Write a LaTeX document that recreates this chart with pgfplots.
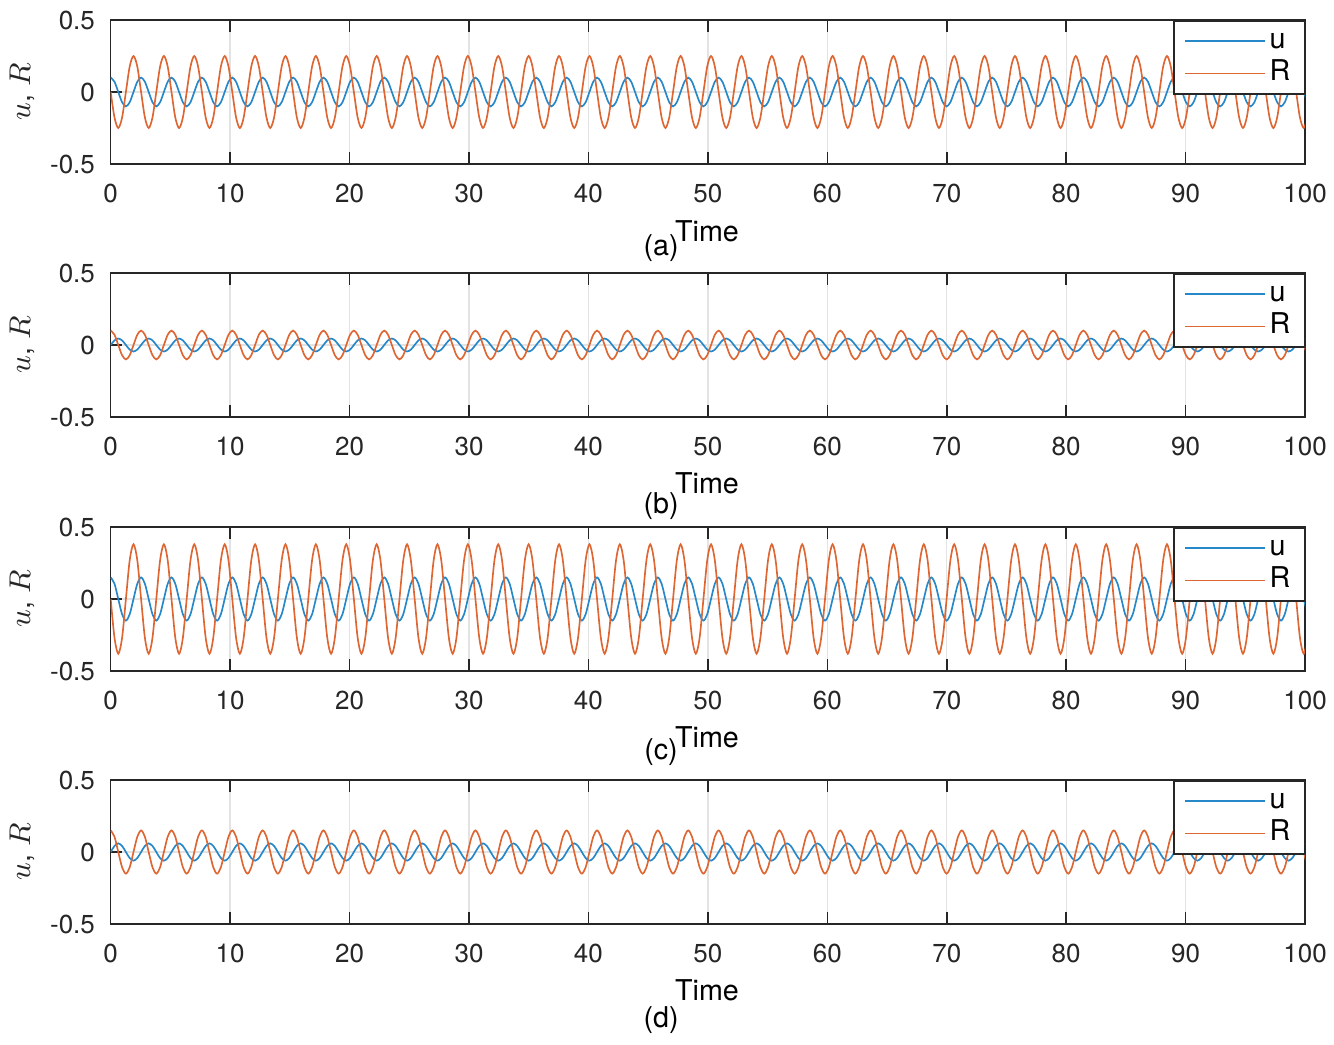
\documentclass[border=0pt]{standalone}
\usepackage{fontspec}
\setmainfont{TeX Gyre Heros}
\usepackage{pgfplots}
\pgfplotsset{compat=1.18}
\usepackage{pgfplotstable}

\definecolor{mblue}{rgb}{0.15,0.53,0.79}
\definecolor{morange}{rgb}{0.87,0.40,0.20}
\definecolor{axgray}{gray}{0.15}
\newcommand\tfont{\fontsize{7.8}{9}\selectfont}
\newcommand\lfont{\fontsize{8.6}{10}\selectfont}

% samples, 8 per period (period ~2.545)
% panel (b) R uses column ua, panel (d) R uses column uc
\pgfplotstableread{
t ua Ra ub uc Rc ud
0 0.1 0 0 0.15 0 0
0.318 0.071 -0.177 0.032 0.106 -0.269 0.042
0.636 0 -0.25 0.045 0 -0.38 0.06
0.954 -0.071 -0.177 0.032 -0.106 -0.269 0.042
1.273 -0.1 0 0 -0.15 0 0
1.591 -0.071 0.177 -0.032 -0.106 0.269 -0.042
1.909 0 0.25 -0.045 0 0.38 -0.06
2.227 0.071 0.177 -0.032 0.106 0.269 -0.042
2.545 0.1 0 0 0.15 0 0
2.863 0.071 -0.177 0.032 0.106 -0.269 0.042
3.181 0 -0.25 0.045 0 -0.38 0.06
3.499 -0.071 -0.177 0.032 -0.106 -0.269 0.042
3.818 -0.1 0 0 -0.15 0 0
4.136 -0.071 0.177 -0.032 -0.106 0.269 -0.042
4.454 0 0.25 -0.045 0 0.38 -0.06
4.772 0.071 0.177 -0.032 0.106 0.269 -0.042
5.090 0.1 0 0 0.15 0 0
5.408 0.071 -0.177 0.032 0.106 -0.269 0.042
5.726 0 -0.25 0.045 0 -0.38 0.06
6.044 -0.071 -0.177 0.032 -0.106 -0.269 0.042
6.363 -0.1 0 0 -0.15 0 0
6.681 -0.071 0.177 -0.032 -0.106 0.269 -0.042
6.999 0 0.25 -0.045 0 0.38 -0.06
7.317 0.071 0.177 -0.032 0.106 0.269 -0.042
7.635 0.1 0 0 0.15 0 0
7.953 0.071 -0.177 0.032 0.106 -0.269 0.042
8.271 0 -0.25 0.045 0 -0.38 0.06
8.589 -0.071 -0.177 0.032 -0.106 -0.269 0.042
8.908 -0.1 0 0 -0.15 0 0
9.226 -0.071 0.177 -0.032 -0.106 0.269 -0.042
9.544 0 0.25 -0.045 0 0.38 -0.06
9.862 0.071 0.177 -0.032 0.106 0.269 -0.042
10.180 0.1 0 0 0.15 0 0
10.498 0.071 -0.177 0.032 0.106 -0.269 0.042
10.816 0 -0.25 0.045 0 -0.38 0.06
11.134 -0.071 -0.177 0.032 -0.106 -0.269 0.042
11.453 -0.1 0 0 -0.15 0 0
11.771 -0.071 0.177 -0.032 -0.106 0.269 -0.042
12.089 0 0.25 -0.045 0 0.38 -0.06
12.407 0.071 0.177 -0.032 0.106 0.269 -0.042
12.725 0.1 0 0 0.15 0 0
13.043 0.071 -0.177 0.032 0.106 -0.269 0.042
13.361 0 -0.25 0.045 0 -0.38 0.06
13.679 -0.071 -0.177 0.032 -0.106 -0.269 0.042
13.998 -0.1 0 0 -0.15 0 0
14.316 -0.071 0.177 -0.032 -0.106 0.269 -0.042
14.634 0 0.25 -0.045 0 0.38 -0.06
14.952 0.071 0.177 -0.032 0.106 0.269 -0.042
15.270 0.1 0 0 0.15 0 0
15.588 0.071 -0.177 0.032 0.106 -0.269 0.042
15.906 0 -0.25 0.045 0 -0.38 0.06
16.224 -0.071 -0.177 0.032 -0.106 -0.269 0.042
16.543 -0.1 0 0 -0.15 0 0
16.861 -0.071 0.177 -0.032 -0.106 0.269 -0.042
17.179 0 0.25 -0.045 0 0.38 -0.06
17.497 0.071 0.177 -0.032 0.106 0.269 -0.042
17.815 0.1 0 0 0.15 0 0
18.133 0.071 -0.177 0.032 0.106 -0.269 0.042
18.451 0 -0.25 0.045 0 -0.38 0.06
18.769 -0.071 -0.177 0.032 -0.106 -0.269 0.042
19.088 -0.1 0 0 -0.15 0 0
19.406 -0.071 0.177 -0.032 -0.106 0.269 -0.042
19.724 0 0.25 -0.045 0 0.38 -0.06
20.042 0.071 0.177 -0.032 0.106 0.269 -0.042
20.360 0.1 0 0 0.15 0 0
20.678 0.071 -0.177 0.032 0.106 -0.269 0.042
20.996 0 -0.25 0.045 0 -0.38 0.06
21.314 -0.071 -0.177 0.032 -0.106 -0.269 0.042
21.633 -0.1 0 0 -0.15 0 0
21.951 -0.071 0.177 -0.032 -0.106 0.269 -0.042
22.269 0 0.25 -0.045 0 0.38 -0.06
22.587 0.071 0.177 -0.032 0.106 0.269 -0.042
22.905 0.1 0 0 0.15 0 0
23.223 0.071 -0.177 0.032 0.106 -0.269 0.042
23.541 0 -0.25 0.045 0 -0.38 0.06
23.859 -0.071 -0.177 0.032 -0.106 -0.269 0.042
24.178 -0.1 0 0 -0.15 0 0
24.496 -0.071 0.177 -0.032 -0.106 0.269 -0.042
24.814 0 0.25 -0.045 0 0.38 -0.06
25.132 0.071 0.177 -0.032 0.106 0.269 -0.042
25.450 0.1 0 0 0.15 0 0
25.768 0.071 -0.177 0.032 0.106 -0.269 0.042
26.086 0 -0.25 0.045 0 -0.38 0.06
26.404 -0.071 -0.177 0.032 -0.106 -0.269 0.042
26.723 -0.1 0 0 -0.15 0 0
27.041 -0.071 0.177 -0.032 -0.106 0.269 -0.042
27.359 0 0.25 -0.045 0 0.38 -0.06
27.677 0.071 0.177 -0.032 0.106 0.269 -0.042
27.995 0.1 0 0 0.15 0 0
28.313 0.071 -0.177 0.032 0.106 -0.269 0.042
28.631 0 -0.25 0.045 0 -0.38 0.06
28.949 -0.071 -0.177 0.032 -0.106 -0.269 0.042
29.268 -0.1 0 0 -0.15 0 0
29.586 -0.071 0.177 -0.032 -0.106 0.269 -0.042
29.904 0 0.25 -0.045 0 0.38 -0.06
30.222 0.071 0.177 -0.032 0.106 0.269 -0.042
30.540 0.1 0 0 0.15 0 0
30.858 0.071 -0.177 0.032 0.106 -0.269 0.042
31.176 0 -0.25 0.045 0 -0.38 0.06
31.494 -0.071 -0.177 0.032 -0.106 -0.269 0.042
31.813 -0.1 0 0 -0.15 0 0
32.131 -0.071 0.177 -0.032 -0.106 0.269 -0.042
32.449 0 0.25 -0.045 0 0.38 -0.06
32.767 0.071 0.177 -0.032 0.106 0.269 -0.042
33.085 0.1 0 0 0.15 0 0
33.403 0.071 -0.177 0.032 0.106 -0.269 0.042
33.721 0 -0.25 0.045 0 -0.38 0.06
34.039 -0.071 -0.177 0.032 -0.106 -0.269 0.042
34.358 -0.1 0 0 -0.15 0 0
34.676 -0.071 0.177 -0.032 -0.106 0.269 -0.042
34.994 0 0.25 -0.045 0 0.38 -0.06
35.312 0.071 0.177 -0.032 0.106 0.269 -0.042
35.630 0.1 0 0 0.15 0 0
35.948 0.071 -0.177 0.032 0.106 -0.269 0.042
36.266 0 -0.25 0.045 0 -0.38 0.06
36.584 -0.071 -0.177 0.032 -0.106 -0.269 0.042
36.903 -0.1 0 0 -0.15 0 0
37.221 -0.071 0.177 -0.032 -0.106 0.269 -0.042
37.539 0 0.25 -0.045 0 0.38 -0.06
37.857 0.071 0.177 -0.032 0.106 0.269 -0.042
38.175 0.1 0 0 0.15 0 0
38.493 0.071 -0.177 0.032 0.106 -0.269 0.042
38.811 0 -0.25 0.045 0 -0.38 0.06
39.129 -0.071 -0.177 0.032 -0.106 -0.269 0.042
39.448 -0.1 0 0 -0.15 0 0
39.766 -0.071 0.177 -0.032 -0.106 0.269 -0.042
40.084 0 0.25 -0.045 0 0.38 -0.06
40.402 0.071 0.177 -0.032 0.106 0.269 -0.042
40.720 0.1 0 0 0.15 0 0
41.038 0.071 -0.177 0.032 0.106 -0.269 0.042
41.356 0 -0.25 0.045 0 -0.38 0.06
41.674 -0.071 -0.177 0.032 -0.106 -0.269 0.042
41.993 -0.1 0 0 -0.15 0 0
42.311 -0.071 0.177 -0.032 -0.106 0.269 -0.042
42.629 0 0.25 -0.045 0 0.38 -0.06
42.947 0.071 0.177 -0.032 0.106 0.269 -0.042
43.265 0.1 0 0 0.15 0 0
43.583 0.071 -0.177 0.032 0.106 -0.269 0.042
43.901 0 -0.25 0.045 0 -0.38 0.06
44.219 -0.071 -0.177 0.032 -0.106 -0.269 0.042
44.538 -0.1 0 0 -0.15 0 0
44.856 -0.071 0.177 -0.032 -0.106 0.269 -0.042
45.174 0 0.25 -0.045 0 0.38 -0.06
45.492 0.071 0.177 -0.032 0.106 0.269 -0.042
45.810 0.1 0 0 0.15 0 0
46.128 0.071 -0.177 0.032 0.106 -0.269 0.042
46.446 0 -0.25 0.045 0 -0.38 0.06
46.764 -0.071 -0.177 0.032 -0.106 -0.269 0.042
47.083 -0.1 0 0 -0.15 0 0
47.401 -0.071 0.177 -0.032 -0.106 0.269 -0.042
47.719 0 0.25 -0.045 0 0.38 -0.06
48.037 0.071 0.177 -0.032 0.106 0.269 -0.042
48.355 0.1 0 0 0.15 0 0
48.673 0.071 -0.177 0.032 0.106 -0.269 0.042
48.991 0 -0.25 0.045 0 -0.38 0.06
49.309 -0.071 -0.177 0.032 -0.106 -0.269 0.042
49.628 -0.1 0 0 -0.15 0 0
49.946 -0.071 0.177 -0.032 -0.106 0.269 -0.042
50.264 0 0.25 -0.045 0 0.38 -0.06
50.582 0.071 0.177 -0.032 0.106 0.269 -0.042
50.900 0.1 0 0 0.15 0 0
51.218 0.071 -0.177 0.032 0.106 -0.269 0.042
51.536 0 -0.25 0.045 0 -0.38 0.06
51.854 -0.071 -0.177 0.032 -0.106 -0.269 0.042
52.173 -0.1 0 0 -0.15 0 0
52.491 -0.071 0.177 -0.032 -0.106 0.269 -0.042
52.809 0 0.25 -0.045 0 0.38 -0.06
53.127 0.071 0.177 -0.032 0.106 0.269 -0.042
53.445 0.1 0 0 0.15 0 0
53.763 0.071 -0.177 0.032 0.106 -0.269 0.042
54.081 0 -0.25 0.045 0 -0.38 0.06
54.399 -0.071 -0.177 0.032 -0.106 -0.269 0.042
54.718 -0.1 0 0 -0.15 0 0
55.036 -0.071 0.177 -0.032 -0.106 0.269 -0.042
55.354 0 0.25 -0.045 0 0.38 -0.06
55.672 0.071 0.177 -0.032 0.106 0.269 -0.042
55.990 0.1 0 0 0.15 0 0
56.308 0.071 -0.177 0.032 0.106 -0.269 0.042
56.626 0 -0.25 0.045 0 -0.38 0.06
56.944 -0.071 -0.177 0.032 -0.106 -0.269 0.042
57.263 -0.1 0 0 -0.15 0 0
57.581 -0.071 0.177 -0.032 -0.106 0.269 -0.042
57.899 0 0.25 -0.045 0 0.38 -0.06
58.217 0.071 0.177 -0.032 0.106 0.269 -0.042
58.535 0.1 0 0 0.15 0 0
58.853 0.071 -0.177 0.032 0.106 -0.269 0.042
59.171 0 -0.25 0.045 0 -0.38 0.06
59.489 -0.071 -0.177 0.032 -0.106 -0.269 0.042
59.808 -0.1 0 0 -0.15 0 0
60.126 -0.071 0.177 -0.032 -0.106 0.269 -0.042
60.444 0 0.25 -0.045 0 0.38 -0.06
60.762 0.071 0.177 -0.032 0.106 0.269 -0.042
61.080 0.1 0 0 0.15 0 0
61.398 0.071 -0.177 0.032 0.106 -0.269 0.042
61.716 0 -0.25 0.045 0 -0.38 0.06
62.034 -0.071 -0.177 0.032 -0.106 -0.269 0.042
62.353 -0.1 0 0 -0.15 0 0
62.671 -0.071 0.177 -0.032 -0.106 0.269 -0.042
62.989 0 0.25 -0.045 0 0.38 -0.06
63.307 0.071 0.177 -0.032 0.106 0.269 -0.042
63.625 0.1 0 0 0.15 0 0
63.943 0.071 -0.177 0.032 0.106 -0.269 0.042
64.261 0 -0.25 0.045 0 -0.38 0.06
64.579 -0.071 -0.177 0.032 -0.106 -0.269 0.042
64.898 -0.1 0 0 -0.15 0 0
65.216 -0.071 0.177 -0.032 -0.106 0.269 -0.042
65.534 0 0.25 -0.045 0 0.38 -0.06
65.852 0.071 0.177 -0.032 0.106 0.269 -0.042
66.170 0.1 0 0 0.15 0 0
66.488 0.071 -0.177 0.032 0.106 -0.269 0.042
66.806 0 -0.25 0.045 0 -0.38 0.06
67.124 -0.071 -0.177 0.032 -0.106 -0.269 0.042
67.443 -0.1 0 0 -0.15 0 0
67.761 -0.071 0.177 -0.032 -0.106 0.269 -0.042
68.079 0 0.25 -0.045 0 0.38 -0.06
68.397 0.071 0.177 -0.032 0.106 0.269 -0.042
68.715 0.1 0 0 0.15 0 0
69.033 0.071 -0.177 0.032 0.106 -0.269 0.042
69.351 0 -0.25 0.045 0 -0.38 0.06
69.669 -0.071 -0.177 0.032 -0.106 -0.269 0.042
69.988 -0.1 0 0 -0.15 0 0
70.306 -0.071 0.177 -0.032 -0.106 0.269 -0.042
70.624 0 0.25 -0.045 0 0.38 -0.06
70.942 0.071 0.177 -0.032 0.106 0.269 -0.042
71.260 0.1 0 0 0.15 0 0
71.578 0.071 -0.177 0.032 0.106 -0.269 0.042
71.896 0 -0.25 0.045 0 -0.38 0.06
72.214 -0.071 -0.177 0.032 -0.106 -0.269 0.042
72.533 -0.1 0 0 -0.15 0 0
72.851 -0.071 0.177 -0.032 -0.106 0.269 -0.042
73.169 0 0.25 -0.045 0 0.38 -0.06
73.487 0.071 0.177 -0.032 0.106 0.269 -0.042
73.805 0.1 0 0 0.15 0 0
74.123 0.071 -0.177 0.032 0.106 -0.269 0.042
74.441 0 -0.25 0.045 0 -0.38 0.06
74.759 -0.071 -0.177 0.032 -0.106 -0.269 0.042
75.078 -0.1 0 0 -0.15 0 0
75.396 -0.071 0.177 -0.032 -0.106 0.269 -0.042
75.714 0 0.25 -0.045 0 0.38 -0.06
76.032 0.071 0.177 -0.032 0.106 0.269 -0.042
76.350 0.1 0 0 0.15 0 0
76.668 0.071 -0.177 0.032 0.106 -0.269 0.042
76.986 0 -0.25 0.045 0 -0.38 0.06
77.304 -0.071 -0.177 0.032 -0.106 -0.269 0.042
77.623 -0.1 0 0 -0.15 0 0
77.941 -0.071 0.177 -0.032 -0.106 0.269 -0.042
78.259 0 0.25 -0.045 0 0.38 -0.06
78.577 0.071 0.177 -0.032 0.106 0.269 -0.042
78.895 0.1 0 0 0.15 0 0
79.213 0.071 -0.177 0.032 0.106 -0.269 0.042
79.531 0 -0.25 0.045 0 -0.38 0.06
79.849 -0.071 -0.177 0.032 -0.106 -0.269 0.042
80.168 -0.1 0 0 -0.15 0 0
80.486 -0.071 0.177 -0.032 -0.106 0.269 -0.042
80.804 0 0.25 -0.045 0 0.38 -0.06
81.122 0.071 0.177 -0.032 0.106 0.269 -0.042
81.440 0.1 0 0 0.15 0 0
81.758 0.071 -0.177 0.032 0.106 -0.269 0.042
82.076 0 -0.25 0.045 0 -0.38 0.06
82.394 -0.071 -0.177 0.032 -0.106 -0.269 0.042
82.713 -0.1 0 0 -0.15 0 0
83.031 -0.071 0.177 -0.032 -0.106 0.269 -0.042
83.349 0 0.25 -0.045 0 0.38 -0.06
83.667 0.071 0.177 -0.032 0.106 0.269 -0.042
83.985 0.1 0 0 0.15 0 0
84.303 0.071 -0.177 0.032 0.106 -0.269 0.042
84.621 0 -0.25 0.045 0 -0.38 0.06
84.939 -0.071 -0.177 0.032 -0.106 -0.269 0.042
85.258 -0.1 0 0 -0.15 0 0
85.576 -0.071 0.177 -0.032 -0.106 0.269 -0.042
85.894 0 0.25 -0.045 0 0.38 -0.06
86.212 0.071 0.177 -0.032 0.106 0.269 -0.042
86.530 0.1 0 0 0.15 0 0
86.848 0.071 -0.177 0.032 0.106 -0.269 0.042
87.166 0 -0.25 0.045 0 -0.38 0.06
87.484 -0.071 -0.177 0.032 -0.106 -0.269 0.042
87.803 -0.1 0 0 -0.15 0 0
88.121 -0.071 0.177 -0.032 -0.106 0.269 -0.042
88.439 0 0.25 -0.045 0 0.38 -0.06
88.757 0.071 0.177 -0.032 0.106 0.269 -0.042
89.075 0.1 0 0 0.15 0 0
89.393 0.071 -0.177 0.032 0.106 -0.269 0.042
89.711 0 -0.25 0.045 0 -0.38 0.06
90.029 -0.071 -0.177 0.032 -0.106 -0.269 0.042
90.348 -0.1 0 0 -0.15 0 0
90.666 -0.071 0.177 -0.032 -0.106 0.269 -0.042
90.984 0 0.25 -0.045 0 0.38 -0.06
91.302 0.071 0.177 -0.032 0.106 0.269 -0.042
91.620 0.1 0 0 0.15 0 0
91.938 0.071 -0.177 0.032 0.106 -0.269 0.042
92.256 0 -0.25 0.045 0 -0.38 0.06
92.574 -0.071 -0.177 0.032 -0.106 -0.269 0.042
92.893 -0.1 0 0 -0.15 0 0
93.211 -0.071 0.177 -0.032 -0.106 0.269 -0.042
93.529 0 0.25 -0.045 0 0.38 -0.06
93.847 0.071 0.177 -0.032 0.106 0.269 -0.042
94.165 0.1 0 0 0.15 0 0
94.483 0.071 -0.177 0.032 0.106 -0.269 0.042
94.801 0 -0.25 0.045 0 -0.38 0.06
95.119 -0.071 -0.177 0.032 -0.106 -0.269 0.042
95.438 -0.1 0 0 -0.15 0 0
95.756 -0.071 0.177 -0.032 -0.106 0.269 -0.042
96.074 0 0.25 -0.045 0 0.38 -0.06
96.392 0.071 0.177 -0.032 0.106 0.269 -0.042
96.710 0.1 0 0 0.15 0 0
97.028 0.071 -0.177 0.032 0.106 -0.269 0.042
97.346 0 -0.25 0.045 0 -0.38 0.06
97.664 -0.071 -0.177 0.032 -0.106 -0.269 0.042
97.983 -0.1 0 0 -0.15 0 0
98.301 -0.071 0.177 -0.032 -0.106 0.269 -0.042
98.619 0 0.25 -0.045 0 0.38 -0.06
98.937 0.071 0.177 -0.032 0.106 0.269 -0.042
99.255 0.1 0 0 0.15 0 0
99.573 0.071 -0.177 0.032 0.106 -0.269 0.042
99.891 0 -0.25 0.045 0 -0.38 0.06
100.209 -0.071 -0.177 0.032 -0.106 -0.269 0.042
}\wave

\pgfplotsset{
  panel/.style={
    scale only axis, width=358.3pt, height=43.2pt,
    anchor=north west,
    xmin=0, xmax=100, ymin=-0.5, ymax=0.5,
    xtick={0,10,...,100}, ytick={-0.5,0,0.5},
    tick align=inside, major tick length=3.5pt,
    grid=major, grid style={black!11, line width=0.4pt},
    axis line style={axgray, line width=0.45pt},
    every tick/.style={axgray, line width=0.45pt},
    tick label style={font=\tfont, text=axgray},
    xticklabel style={yshift=-2.4pt},
    yticklabel style={xshift=-1.2pt},
    /pgf/number format/assume math mode=true,
    ylabel={$u$, $R$},
    ylabel style={at={(axis description cs:-0.0742,0.5)}, anchor=center, font=\lfont, text=axgray},
    xlabel={Time},
    xlabel style={at={(axis description cs:0.4993,0)}, anchor=center, font=\lfont, text=black},
    legend style={at={(1,1)}, anchor=north east, draw=axgray, line width=0.45pt,
      font=\lfont, inner xsep=3.2pt, inner ysep=1.5pt, row sep=0.4pt,
      nodes={text height=5.8pt, text depth=1.5pt, inner sep=1pt}},
    legend image code/.code={\draw[#1] (0pt,0pt) -- (24pt,0pt);},
    legend cell align=left,
    clip mode=individual,
    every axis plot/.append style={line width=0.5pt, smooth},
  }
}

\begin{document}
\begin{tikzpicture}
\path[use as bounding box] (0pt,0pt) rectangle (400.2pt,-313.2pt);

% (a)
\begin{axis}[panel, at={(33.21pt,-6pt)}, xlabel style={yshift=-20.1pt}]
\addplot[mblue] table[x=t, y=ua] {\wave};
\addplot[morange] table[x=t, y=Ra] {\wave};
\legend{u, R}
\node[font=\lfont] at (rel axis cs:0.4608,0) [yshift=-25.2pt] {(a)};
\end{axis}

% (b)
\begin{axis}[panel, at={(33.21pt,-81.9pt)}, xlabel style={yshift=-19.8pt}]
\addplot[mblue] table[x=t, y=ub] {\wave};
\addplot[morange] table[x=t, y=ua] {\wave};
\legend{u, R}
\node[font=\lfont] at (rel axis cs:0.4608,0) [yshift=-26.7pt] {(b)};
\end{axis}

% (c)
\begin{axis}[panel, at={(33.21pt,-158.1pt)}, xlabel style={yshift=-19.8pt}]
\addplot[mblue] table[x=t, y=uc] {\wave};
\addplot[morange] table[x=t, y=Rc] {\wave};
\legend{u, R}
\node[font=\lfont] at (rel axis cs:0.4608,0) [yshift=-24.3pt] {(c)};
\end{axis}

% (d)
\begin{axis}[panel, at={(33.21pt,-234pt)}, xlabel style={yshift=-19.8pt}]
\addplot[mblue] table[x=t, y=ud] {\wave};
\addplot[morange] table[x=t, y=uc] {\wave};
\legend{u, R}
\node[font=\lfont] at (rel axis cs:0.4608,0) [yshift=-28.8pt] {(d)};
\end{axis}
\end{tikzpicture}
\end{document}
